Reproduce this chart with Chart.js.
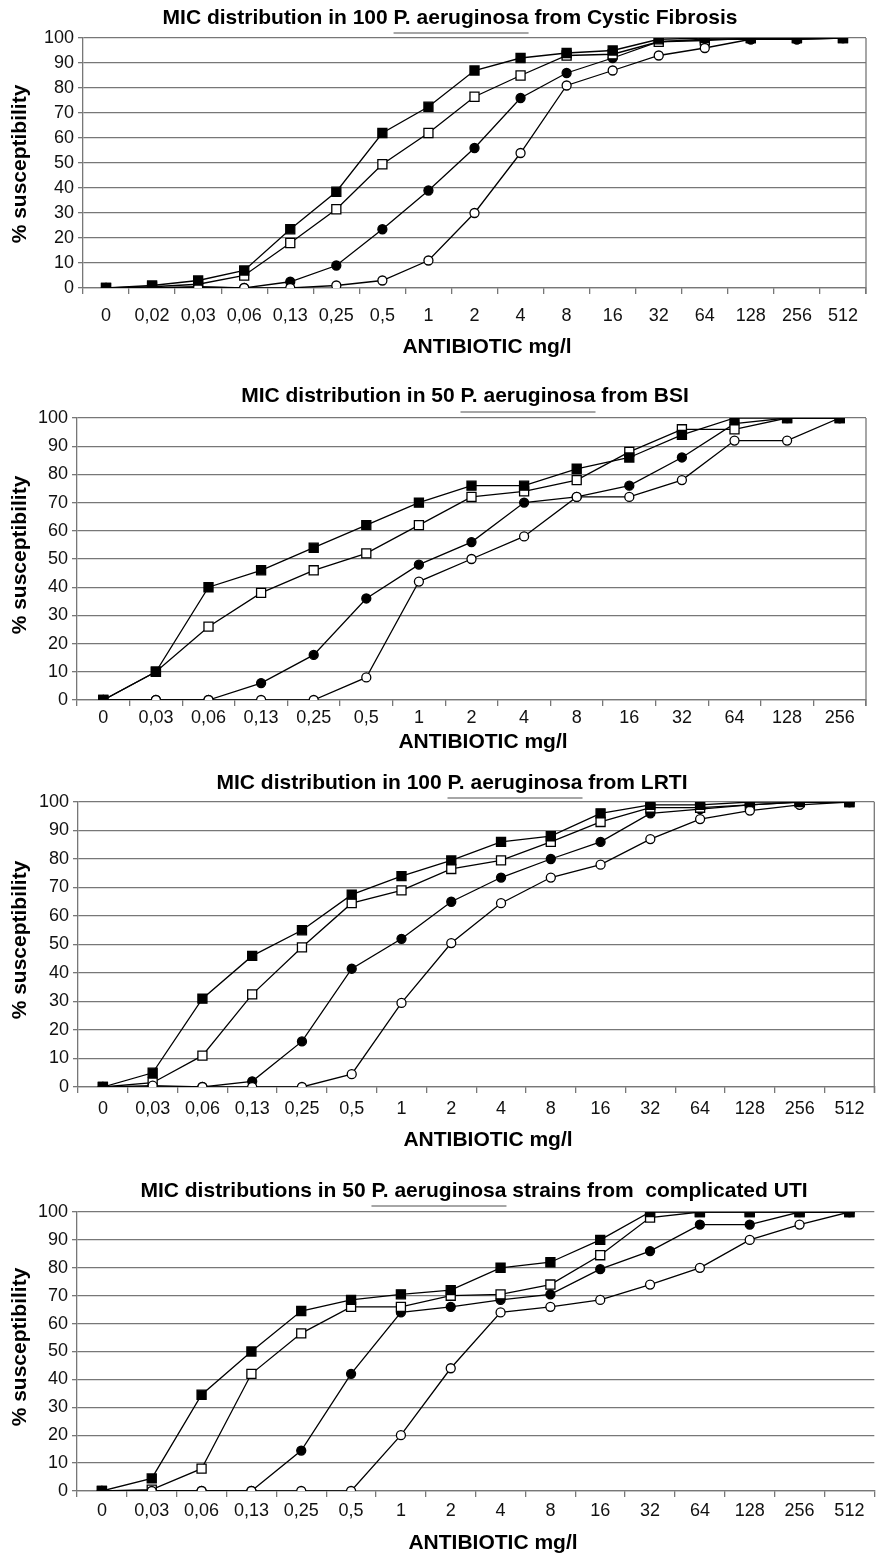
<!DOCTYPE html>
<html>
<head>
<meta charset="utf-8">
<title>MIC distributions</title>
<script src="https://cdn.jsdelivr.net/npm/chart.js@4.4.1/dist/chart.umd.min.js"></script>
<style>
  body { margin: 0; background: #fff; }
  #wrap { position: relative; width: 882px; height: 1557px; }
  canvas { position: absolute; left: 0; }
</style>
</head>
<body>
<div id="wrap">
  <canvas id="c1" width="882" height="365" style="top:0px"></canvas>
  <canvas id="c2" width="882" height="395" style="top:365px"></canvas>
  <canvas id="c3" width="882" height="390" style="top:760px"></canvas>
  <canvas id="c4" width="882" height="407" style="top:1150px"></canvas>
</div>
<script>
// data (% susceptibility per MIC)

// Cystic Fibrosis
const cfLabels = ['0', '0,02', '0,03', '0,06', '0,13', '0,25', '0,5', '1', '2', '4', '8', '16', '32', '64', '128', '256', '512'];
const cfFilledSq = [0, 1, 3, 7, 23.5, 38.5, 62, 72.5, 87, 92, 94, 95, 99.5, 100, 100, 100, 100];
const cfOpenSq = [0, 0.5, 1.5, 5, 18, 31.5, 49.5, 62, 76.5, 85, 93, 93.5, 98.5, 99, 100, 100, 100];
const cfFilledCirc = [0, 0, 0.5, 0, 2.5, 9, 23.5, 39, 56, 76, 86, 92, 98.5, 99.5, 99.5, 99.5, 100];
const cfOpenCirc = [0, 0, 0.3, 0, 0, 1, 3, 11, 30, 54, 81, 87, 93, 96, 99.5, 99.5, 100];

// BSI
const bsiLabels = ['0', '0,03', '0,06', '0,13', '0,25', '0,5', '1', '2', '4', '8', '16', '32', '64', '128', '256'];
const bsiFilledSq = [0, 10, 40, 46, 54, 62, 70, 76, 76, 82, 86, 94, 100, 100, 100];
const bsiOpenSq = [0, 10, 26, 38, 46, 52, 62, 72, 74, 78, 88, 96, 96, 100, 100];
const bsiFilledCirc = [0, 0, 0, 6, 16, 36, 48, 56, 70, 72, 76, 86, 98, 100, 100];
const bsiOpenCirc = [0, 0, 0, 0, 0, 8, 42, 50, 58, 72, 72, 78, 92, 92, 100];

// LRTI
const lrtiLabels = ['0', '0,03', '0,06', '0,13', '0,25', '0,5', '1', '2', '4', '8', '16', '32', '64', '128', '256', '512'];
const lrtiFilledSq = [0, 5, 31, 46, 55, 67.5, 74, 79.5, 86, 88, 96, 99, 99, 100, 100, 100];
const lrtiOpenSq = [0, 1.5, 11, 32.5, 49, 64.5, 69, 76.5, 79.5, 86, 93, 98, 98, 99, 100, 100];
const lrtiFilledCirc = [0, 0, 0, 2, 16, 41.5, 52, 65, 73.5, 80, 86, 96, 97.5, 99, 100, 100];
const lrtiOpenCirc = [0, 0.5, 0, 0, 0, 4.5, 29.5, 50.5, 64.5, 73.5, 78, 87, 94, 97, 99, 100];

// complicated UTI
const utiLabels = ['0', '0,03', '0,06', '0,13', '0,25', '0,5', '1', '2', '4', '8', '16', '32', '64', '128', '256', '512'];
const utiFilledSq = [0, 4.5, 34.5, 50, 64.5, 68.5, 70.5, 72, 80, 82, 90, 100, 100, 100, 100, 100];
const utiOpenSq = [0, 0.5, 8, 42, 56.5, 66, 66, 70, 70.5, 74, 84.5, 98, 100, 100, 100, 100];
const utiFilledCirc = [0, 0, 0, 0, 14.5, 42, 64, 66, 68.5, 70.5, 79.5, 86, 95.5, 95.5, 100, 100];
const utiOpenCirc = [0, 0, 0, 0, 0, 0, 20, 44, 64, 66, 68.5, 74, 80, 90, 95.5, 100];

const yTicks = [0, 10, 20, 30, 40, 50, 60, 70, 80, 90, 100];

const FONT = '"Liberation Sans", Arial, Helvetica, sans-serif';
const GRID = '#777';

// draws title (species name underlined), axis titles and right frame line
const textPlugin = {
  id: 'textPlugin',
  afterDraw(chart, args, opts) {
    const ctx = chart.ctx;
    const a = chart.chartArea;
    ctx.save();

    if (opts.border) {
      ctx.strokeStyle = GRID;
      ctx.lineWidth = 1.3;
      ctx.beginPath();
      ctx.moveTo(a.right, a.top);
      ctx.lineTo(a.right, a.bottom + 6);
      ctx.stroke();
    }

    ctx.fillStyle = '#000';
    ctx.font = 'bold 21px ' + FONT;
    ctx.textBaseline = 'middle';
    ctx.textAlign = 'left';
    const full = opts.title.join('');
    const w = ctx.measureText(full).width;
    const x0 = opts.titleX - w / 2;
    ctx.fillText(full, x0, opts.titleY);

    const ulStart = x0 + ctx.measureText(opts.title[0]).width;
    const ulEnd = ulStart + ctx.measureText(opts.title[1]).width;
    ctx.strokeStyle = '#888';
    ctx.lineWidth = 1.5;
    ctx.beginPath();
    ctx.moveTo(ulStart, opts.ulY);
    ctx.lineTo(ulEnd, opts.ulY);
    ctx.stroke();

    ctx.textAlign = 'center';
    ctx.fillText('ANTIBIOTIC mg/l', opts.xTitleX, opts.xTitleY);

    ctx.translate(opts.yTitleX, opts.yTitleY);
    ctx.rotate(-Math.PI / 2);
    ctx.fillText('% susceptibility', 0, 0);
    ctx.restore();
  }
};

function makeSets(filledSq, openSq, filledCirc, openCirc) {
  const base = { borderColor: '#000', borderWidth: 1.3, pointBorderColor: '#000', pointBorderWidth: 1.3, tension: 0, fill: false };
  return [
    { ...base, data: filledSq, pointStyle: 'rect', pointRadius: 6.4, pointBackgroundColor: '#000' },
    { ...base, data: openCirc, pointStyle: 'circle', pointRadius: 4.5, pointBackgroundColor: '#fff' },
    { ...base, data: openSq, pointStyle: 'rect', pointRadius: 6.4, pointBackgroundColor: '#fff' },
    { ...base, data: filledCirc, pointStyle: 'circle', pointRadius: 4.5, pointBackgroundColor: '#000' }
  ];
}

function makeChart(id, labels, sets, geo) {
  const canvas = document.getElementById(id);
  const H = canvas.height;
  return new Chart(canvas, {
    type: 'line',
    data: { labels: labels, datasets: sets },
    options: {
      responsive: false,
      animation: false,
      layout: { padding: { left: 0, top: geo.t, right: 882 - geo.r, bottom: 0 } },
      plugins: {
        legend: { display: false },
        tooltip: { enabled: false },
        title: { display: false },
        textPlugin: geo.text
      },
      scales: {
        x: {
          type: 'category',
          offset: true,
          afterFit: s => { s.height = H - geo.b; },
          grid: { offset: true, drawOnChartArea: false, drawTicks: true, tickLength: 6, color: GRID, lineWidth: 1.3 },
          border: { display: true, color: GRID, width: 1.3 },
          ticks: { autoSkip: false, maxRotation: 0, color: '#111', padding: geo.tickPad, font: { family: FONT, size: 18 } }
        },
        y: {
          min: 0,
          max: 100,
          afterFit: s => { s.width = geo.l; },
          afterBuildTicks: s => { s.ticks = yTicks.map(v => ({ value: v })); },
          grid: { color: GRID, lineWidth: 1.3, tickLength: 5 },
          border: { display: true, color: GRID, width: 1.3 },
          ticks: { color: '#111', padding: 4, font: { family: FONT, size: 18 } }
        }
      }
    },
    plugins: [textPlugin]
  });
}

makeChart('c1', cfLabels, makeSets(cfFilledSq, cfOpenSq, cfFilledCirc, cfOpenCirc), {
  l: 83, t: 38, r: 866, b: 288, tickPad: 11,
  text: { title: ['MIC distribution in 100 ', 'P. aeruginosa', ' from Cystic Fibrosis'], titleX: 450, titleY: 18, ulY: 33, xTitleX: 487, xTitleY: 347, yTitleX: 20, yTitleY: 164, border: true }
});

makeChart('c2', bsiLabels, makeSets(bsiFilledSq, bsiOpenSq, bsiFilledCirc, bsiOpenCirc), {
  l: 77, t: 53, r: 866, b: 335, tickPad: 1,
  text: { title: ['MIC distribution in 50 ', 'P. aeruginosa', ' from BSI'], titleX: 465, titleY: 31, ulY: 47, xTitleX: 483, xTitleY: 377, yTitleX: 20, yTitleY: 190, border: true }
});

makeChart('c3', lrtiLabels, makeSets(lrtiFilledSq, lrtiOpenSq, lrtiFilledCirc, lrtiOpenCirc), {
  l: 78, t: 42, r: 877, b: 327, tickPad: 5,
  text: { title: ['MIC distribution in 100 ', 'P. aeruginosa', ' from LRTI'], titleX: 452, titleY: 23, ulY: 38, xTitleX: 488, xTitleY: 380, yTitleX: 20, yTitleY: 180, border: true }
});

makeChart('c4', utiLabels, makeSets(utiFilledSq, utiOpenSq, utiFilledCirc, utiOpenCirc), {
  l: 77, t: 62, r: 882, b: 341, tickPad: 3,
  text: { title: ['MIC distributions in 50 ', 'P. aeruginosa', ' strains from  complicated UTI'], titleX: 474, titleY: 41, ulY: 56, xTitleX: 493, xTitleY: 393, yTitleX: 20, yTitleY: 197, border: false }
});
</script>
</body>
</html>
